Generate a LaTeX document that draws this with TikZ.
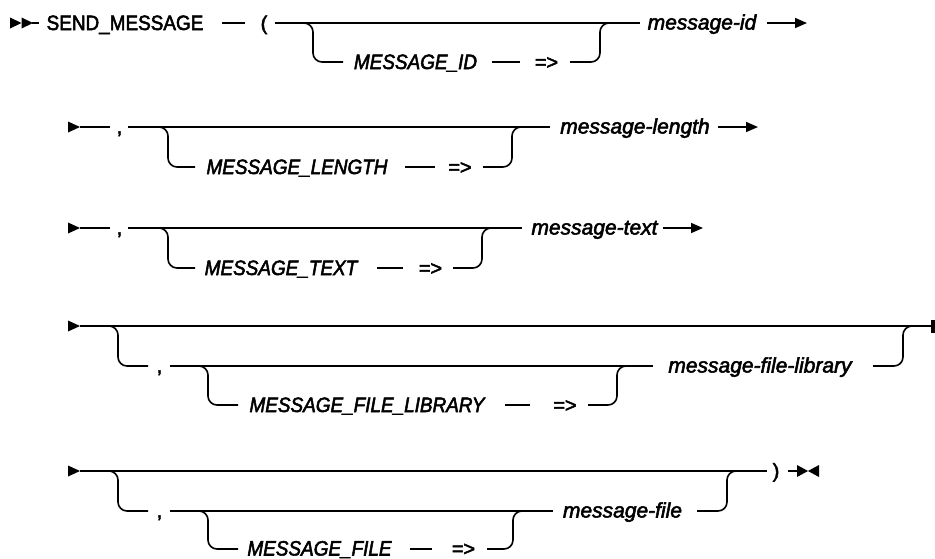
\documentclass[tikz,border=0pt]{standalone}
\usepackage{fontspec}
\setmainfont{Liberation Sans}[FakeBold=2.5]
\newfontfamily\capfont{Liberation Sans}[FakeStretch=0.91,FakeBold=2.5]
\usetikzlibrary{arrows.meta}
\tikzset{
  rail/.style={line width=1.6pt, rounded corners=9pt},
  kw/.style={font=\capfont\fontsize{20.8}{22}\selectfont, inner sep=0pt, anchor=base},
  sym/.style={font=\fontsize{20}{22}\selectfont, inner sep=0pt, anchor=base},
  kwit/.style={font=\capfont\fontsize{20.8}{22}\selectfont\itshape, inner sep=0pt, anchor=base},
  var/.style={font=\fontsize{21}{23}\selectfont\itshape, inner sep=0pt, anchor=base},
  endarrow/.style={line width=1.6pt, -{Triangle[length=12pt,width=10pt]}},
}
\begin{document}
\begin{tikzpicture}[x=1pt,y=-1pt]
\useasboundingbox (0,0) rectangle (935,558);
% ---------------- Row 1
\coordinate (a0) at (10,23);
\coordinate (a1) at (21.5,23);
\fill (a0) ++(0,-5.5) -- ++(11.5,5.5) -- ++(-11.5,5.5) -- cycle;
\fill (a1) ++(0,-5.5) -- ++(11.5,5.5) -- ++(-11.5,5.5) -- cycle;
\coordinate (a2) at (32,23); \coordinate (a3) at (39,23);
\draw[rail] (a2) -- (a3);
\node[kw] (send) at (125,30) {SEND\_MESSAGE};
\coordinate (a4) at (222,23); \coordinate (a5) at (245,23);
\draw[rail] (a4) -- (a5);
\node[sym] (lp) at (264,30) {(};
\coordinate (a6) at (275,23); \coordinate (a7) at (640,23);
\draw[rail] (a6) -- (a7);
\coordinate (b1) at (300,23); \coordinate (b2) at (313,23);
\coordinate (b3) at (313,62); \coordinate (b4) at (343,62);
\draw[rail] (b1) -- (b2) -- (b3) -- (b4);
\node[kwit] (mid) at (415.5,69) {MESSAGE\_ID};
\coordinate (b5) at (492,62); \coordinate (b6) at (520,62);
\draw[rail] (b5) -- (b6);
\node[sym] (eq1) at (546.5,69) {=>};
\coordinate (b7) at (570,62); \coordinate (b8) at (600,62);
\coordinate (b9) at (600,23); \coordinate (b10) at (612,23);
\draw[rail] (b7) -- (b8) -- (b9) -- (b10);
\node[var] (v1) at (702,29.5) {message-id};
\coordinate (e1a) at (767,23); \coordinate (e1b) at (807,23);
\draw[endarrow] (e1a) -- (e1b);
% ---------------- Row 2
\coordinate (r2s) at (68,127);
\fill (r2s) ++(0,-5.5) -- ++(12,5.5) -- ++(-12,5.5) -- cycle;
\coordinate (r2a) at (80,127); \coordinate (r2b) at (110,127);
\draw[rail] (r2a) -- (r2b);
\node[sym] (cm2) at (119.5,133.5) {,};
\coordinate (r2c) at (128,127); \coordinate (r2d) at (550,127);
\draw[rail] (r2c) -- (r2d);
\coordinate (r2e) at (158,127); \coordinate (r2f) at (168,127);
\coordinate (r2g) at (168,167); \coordinate (r2h) at (195,167);
\draw[rail] (r2e) -- (r2f) -- (r2g) -- (r2h);
\node[kwit] (ml) at (297,174) {MESSAGE\_LENGTH};
\coordinate (r2i) at (405,167); \coordinate (r2j) at (435,167);
\draw[rail] (r2i) -- (r2j);
\node[sym] (eq2) at (460,174) {=>};
\coordinate (r2k) at (483,167); \coordinate (r2l) at (512,167);
\coordinate (r2m) at (512,127); \coordinate (r2n) at (522,127);
\draw[rail] (r2k) -- (r2l) -- (r2m) -- (r2n);
\node[var] (v2) at (635,133.5) {message-length};
\coordinate (e2a) at (718,127); \coordinate (e2b) at (758,127);
\draw[endarrow] (e2a) -- (e2b);
% ---------------- Row 3
\coordinate (r3s) at (68,228);
\fill (r3s) ++(0,-5.5) -- ++(12,5.5) -- ++(-12,5.5) -- cycle;
\coordinate (r3a) at (80,228); \coordinate (r3b) at (110,228);
\draw[rail] (r3a) -- (r3b);
\node[sym] (cm3) at (119.5,234.5) {,};
\coordinate (r3c) at (128,228); \coordinate (r3d) at (522,228);
\draw[rail] (r3c) -- (r3d);
\coordinate (r3e) at (158,228); \coordinate (r3f) at (168,228);
\coordinate (r3g) at (168,268); \coordinate (r3h) at (195,268);
\draw[rail] (r3e) -- (r3f) -- (r3g) -- (r3h);
\node[kwit] (mt) at (281,275) {MESSAGE\_TEXT};
\coordinate (r3i) at (377,268); \coordinate (r3j) at (403,268);
\draw[rail] (r3i) -- (r3j);
\node[sym] (eq3) at (430.5,275) {=>};
\coordinate (r3k) at (453,268); \coordinate (r3l) at (482,268);
\coordinate (r3m) at (482,228); \coordinate (r3n) at (492,228);
\draw[rail] (r3k) -- (r3l) -- (r3m) -- (r3n);
\node[var] (v3) at (594.5,234.5) {message-text};
\coordinate (e3a) at (663,228); \coordinate (e3b) at (703,228);
\draw[endarrow] (e3a) -- (e3b);
% ---------------- Row 4
\coordinate (r4s) at (68,326);
\fill (r4s) ++(0,-5.5) -- ++(12,5.5) -- ++(-12,5.5) -- cycle;
\coordinate (r4a) at (80,326); \coordinate (r4z) at (931,326);
\draw[rail] (r4a) -- (r4z);
\fill (r4z) ++(0,-6.5) rectangle ++(3.5,13);
\coordinate (r4e) at (105,326); \coordinate (r4f) at (118,326);
\coordinate (r4g) at (118,366); \coordinate (r4h) at (148,366);
\draw[rail] (r4e) -- (r4f) -- (r4g) -- (r4h);
\node[sym] (cm4) at (159.5,372.5) {,};
\coordinate (r4c) at (170,366); \coordinate (r4d) at (653,366);
\draw[rail] (r4c) -- (r4d);
\coordinate (r4p) at (195,366); \coordinate (r4q) at (208,366);
\coordinate (r4r) at (208,405); \coordinate (r4t) at (238,405);
\draw[rail] (r4p) -- (r4q) -- (r4r) -- (r4t);
\node[kwit] (mfl) at (367,412) {MESSAGE\_FILE\_LIBRARY};
\coordinate (r4i) at (505,405); \coordinate (r4j) at (530,405);
\draw[rail] (r4i) -- (r4j);
\node[sym] (eq4) at (565,412) {=>};
\coordinate (r4k) at (588,405); \coordinate (r4l) at (617,405);
\coordinate (r4m) at (617,366); \coordinate (r4n) at (627,366);
\draw[rail] (r4k) -- (r4l) -- (r4m) -- (r4n);
\node[var] (v4) at (760,372.5) {message-file-library};
\coordinate (r4u) at (873,366); \coordinate (r4v) at (903,366);
\coordinate (r4w) at (903,326); \coordinate (r4x) at (913,326);
\draw[rail] (r4u) -- (r4v) -- (r4w) -- (r4x);
% ---------------- Row 5
\coordinate (r5s) at (68,471);
\fill (r5s) ++(0,-5.5) -- ++(12,5.5) -- ++(-12,5.5) -- cycle;
\coordinate (r5a) at (80,471); \coordinate (r5b) at (767,471);
\draw[rail] (r5a) -- (r5b);
\node[sym] (rp) at (776,477.5) {)};
\coordinate (r5y) at (788,471); \coordinate (r5z) at (797,471);
\draw[rail] (r5y) -- (r5z);
\fill (r5z) ++(0,-6) -- ++(11,6) -- ++(-11,6) -- cycle;
\coordinate (r5end) at (819,471);
\fill (r5end) ++(0,-6) -- ++(-11,6) -- ++(11,6) -- cycle;
\coordinate (r5e) at (105,471); \coordinate (r5f) at (118,471);
\coordinate (r5g) at (118,511); \coordinate (r5h) at (148,511);
\draw[rail] (r5e) -- (r5f) -- (r5g) -- (r5h);
\node[sym] (cm5) at (159.5,517.5) {,};
\coordinate (r5c) at (170,511); \coordinate (r5d) at (553,511);
\draw[rail] (r5c) -- (r5d);
\coordinate (r5p) at (195,511); \coordinate (r5q) at (208,511);
\coordinate (r5r) at (208,549); \coordinate (r5t) at (238,549);
\draw[rail] (r5p) -- (r5q) -- (r5r) -- (r5t);
\node[kwit] (mf) at (319.5,555.5) {MESSAGE\_FILE};
\coordinate (r5i) at (410,549); \coordinate (r5j) at (432,549);
\draw[rail] (r5i) -- (r5j);
\node[sym] (eq5) at (463.5,555.5) {=>};
\coordinate (r5k) at (487,549); \coordinate (r5l) at (513,549);
\coordinate (r5m) at (513,511); \coordinate (r5n) at (523,511);
\draw[rail] (r5k) -- (r5l) -- (r5m) -- (r5n);
\node[var] (v5) at (622.5,517.5) {message-file};
\coordinate (r5u) at (697,511); \coordinate (r5v) at (727,511);
\coordinate (r5w) at (727,471); \coordinate (r5x) at (737,471);
\draw[rail] (r5u) -- (r5v) -- (r5w) -- (r5x);
\end{tikzpicture}
\end{document}
